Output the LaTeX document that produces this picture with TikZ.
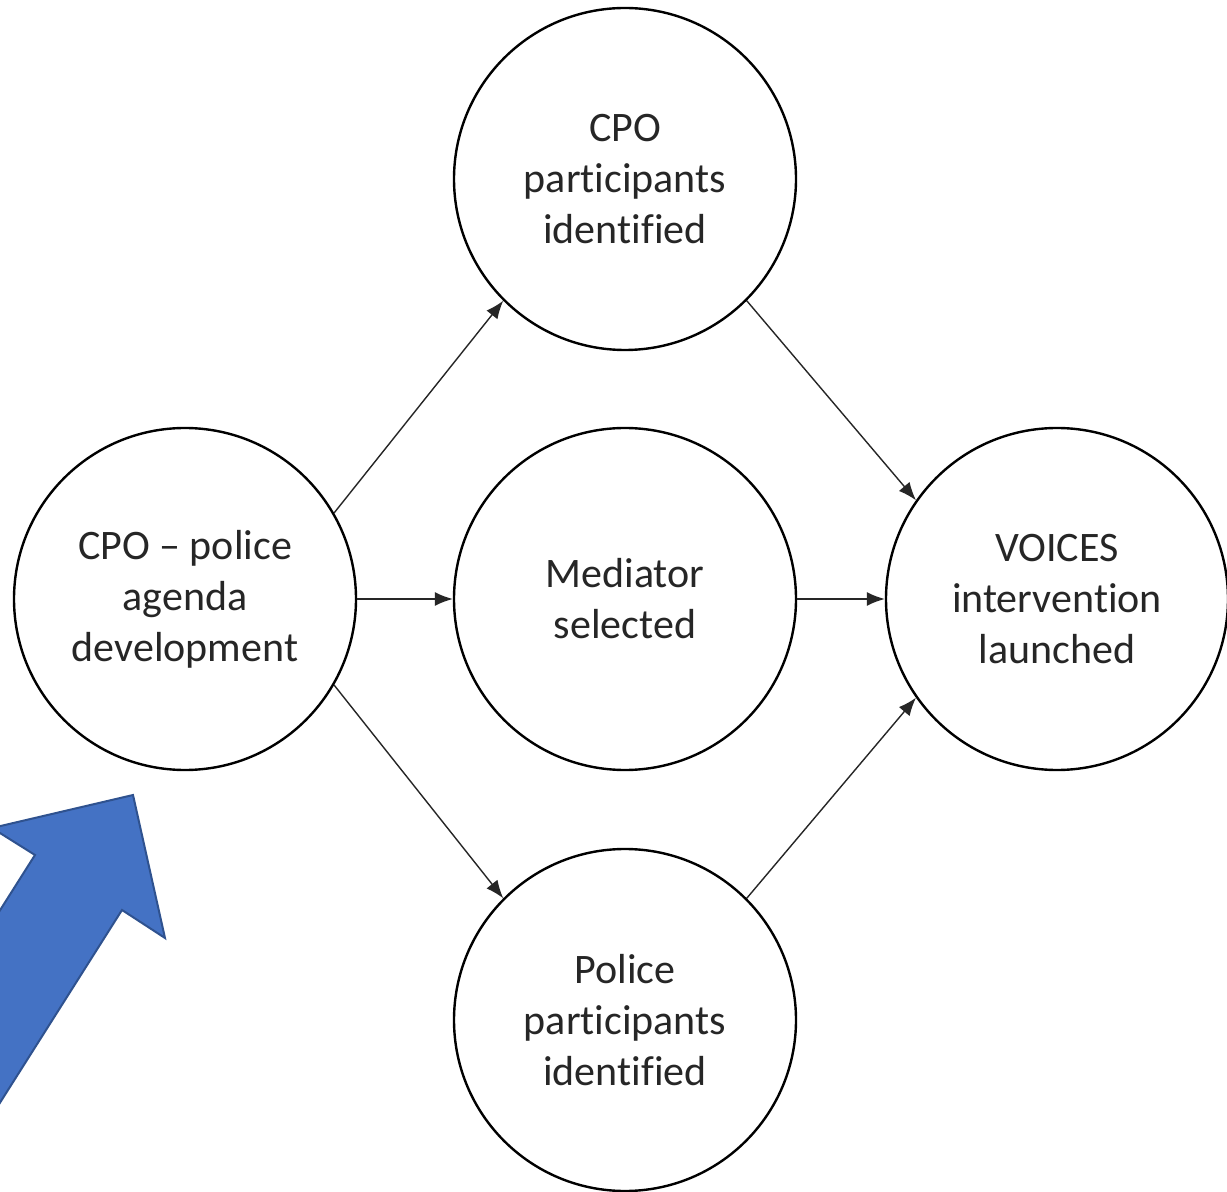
\documentclass[tikz,border=0pt]{standalone}
\usepackage{fontspec}
\setmainfont[Ligatures=NoCommon]{Carlito}
\usetikzlibrary{arrows.meta}
\definecolor{officeblue}{HTML}{4472C4}
\definecolor{officeblueline}{HTML}{2F528F}
\tikzset{
	stage/.style={circle, draw=black, line width=1.2pt, minimum size=171pt, inner sep=0pt, align=center, text=black!85, font=\fontsize{21}{25.5}\selectfont},
	flow/.style={-{Latex[length=9pt,width=7pt]}, line width=0.7pt, black!85}
}
\begin{document}
\begin{tikzpicture}[x=0.5pt,y=-0.5pt]
			\useasboundingbox (0,0) rectangle (1227,1192);
			\fill[white] (0,0) rectangle (1227,1192);
			\node[stage] (agenda) at (185,599) {CPO -- police\\agenda\\development};
			\node[stage] (cpo) at (625,179) {CPO\\participants\\identified};
			\node[stage] (mediator) at (625,599) {Mediator\\selected};
			\node[stage] (police) at (625,1020) {Police\\participants\\identified};
			\node[stage] (voices) at (1057,599) {VOICES\\intervention\\launched};
			\draw[flow] (agenda.30) -- (cpo.225);
			\draw[flow] (agenda.east) -- (mediator.west);
			\draw[flow] (agenda.-30) -- (police.135);
			\draw[flow] (cpo.-45) -- (voices.145);
			\draw[flow] (mediator.east) -- (voices.west);
			\draw[flow] (police.45) -- (voices.215);
			% big blue arrow in the corner
			\begin{scope}
				\clip (0,0) rectangle (1227,1192);
				\draw[fill=officeblue, draw=officeblueline, line width=1pt, line join=miter]
					(133,795) -- (165,938) -- (122,910) -- (-92,1248) -- (-179,1193) -- (35,855) -- (-8,828) -- cycle;
			\end{scope}
\end{tikzpicture}
\end{document}
